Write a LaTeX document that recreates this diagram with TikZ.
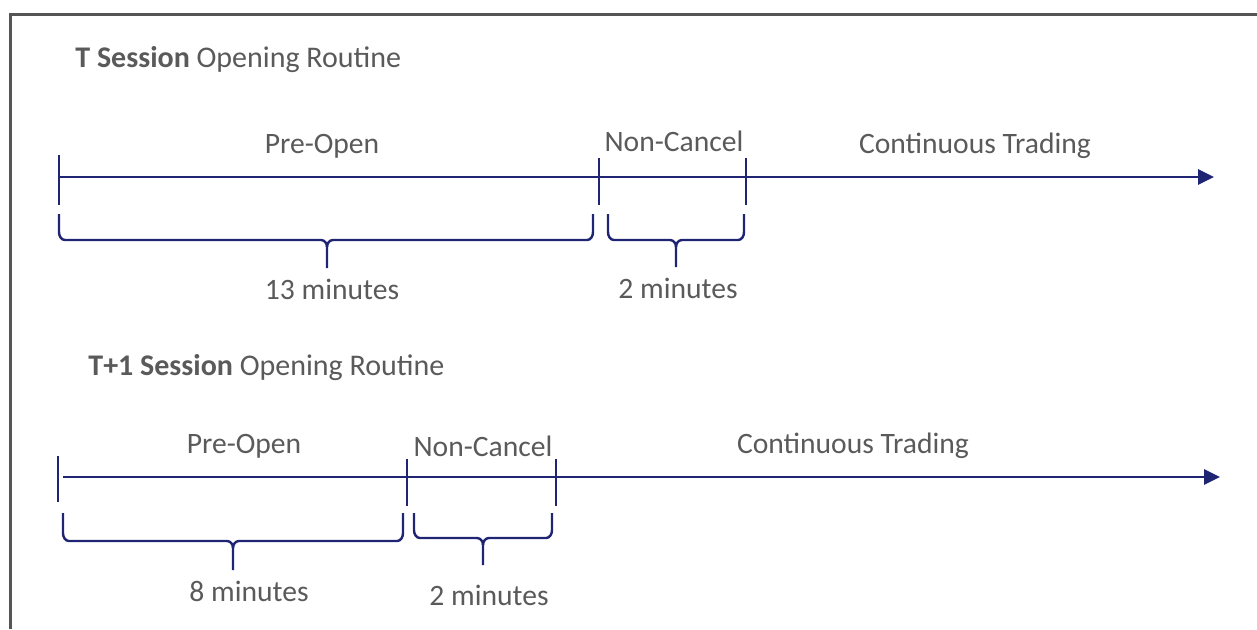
\documentclass[tikz,border=0pt]{standalone}
\usepackage{fontspec}
\setmainfont{Carlito}
\usetikzlibrary{arrows.meta}
\definecolor{navy}{HTML}{1F2473}
\definecolor{txt}{HTML}{5A5A5A}
\definecolor{frame}{HTML}{555555}
\newcommand{\tlbrace}[6]{% xl, xr, ytop, yh, xm, ybot
  \draw[brace] (#1,#3) -- (#1,#4-8) to[out=-90,in=180] (#1+6,#4) -- (#5-6,#4)
     to[out=0,in=90] (#5,#4+7) -- (#5,#6);
  \draw[brace] (#5,#4+7) to[out=90,in=180] (#5+6,#4) -- (#2-6,#4)
     to[out=0,in=-90] (#2,#4-8) -- (#2,#3);}
\begin{document}
\begin{tikzpicture}[x=0.5pt,y=-0.5pt,
  axis/.style={draw=navy,line width=1.35pt,-{Triangle[length=8pt,width=7.5pt]}},
  tick/.style={draw=navy,line width=1.2pt},
  brace/.style={draw=navy,line width=1.2pt},
  lbl/.style={text=txt,font=\fontsize{14.8}{17}\selectfont,inner sep=0pt},
  ttl/.style={text=txt,font=\fontsize{15}{18}\selectfont,inner sep=0pt,anchor=west}]
\useasboundingbox (0,0) rectangle (1257,629);
% frame
\draw[frame,line width=1.5pt] (10,629) -- (10,14.5) -- (1257,14.5);
% ---------- T session
\node[ttl] (t1) at (75,60) {\textbf{T Session} Opening Routine};
\coordinate (a1s) at (59,177);
\coordinate (a1e) at (1214,177);
\draw[axis] (a1s) -- (a1e);
\draw[tick] (59,155) -- (59,205);
\draw[tick] (599,158) -- (599,205);
\draw[tick] (746,158) -- (746,205);
\node[lbl] (p1) at (322,146) {Pre-Open};
\node[lbl] (n1) at (674,141) {Non-Cancel};
\node[lbl] (c1) at (975,146) {Continuous Trading};
\tlbrace{59}{593}{214}{240}{327}{268}
\tlbrace{608}{744}{214}{240}{676}{267}
\node[lbl] (m1) at (332,289) {13 minutes};
\node[lbl] (m2) at (678,288) {2 minutes};
% ---------- T+1 session
\node[ttl] (t2) at (88,368) {\textbf{T+1 Session} Opening Routine};
\coordinate (a2s) at (63,477);
\coordinate (a2e) at (1220,477);
\draw[axis] (a2s) -- (a2e);
\draw[tick] (58,456) -- (58,502);
\draw[tick] (407,459) -- (407,506);
\draw[tick] (556,459) -- (556,506);
\node[lbl] (p2) at (244,446) {Pre-Open};
\node[lbl] (n2) at (483,446) {Non-Cancel};
\node[lbl] (c2) at (853,446) {Continuous Trading};
\tlbrace{63}{403}{513}{541}{233}{570}
\tlbrace{414}{552}{513}{538}{483}{565}
\node[lbl] (m3) at (249,591) {8 minutes};
\node[lbl] (m4) at (489,595) {2 minutes};
\end{tikzpicture}
\end{document}
